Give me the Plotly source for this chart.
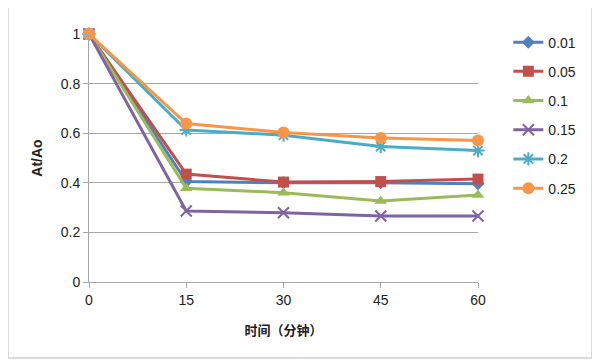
import plotly.graph_objects as go

times = [0, 15, 30, 45, 60]
series_names = ["0.01", "0.05", "0.1", "0.15", "0.2", "0.25"]
v_001 = [1.0, 0.405, 0.400, 0.400, 0.396]
v_005 = [1.0, 0.435, 0.403, 0.405, 0.415]
v_01 = [1.0, 0.378, 0.360, 0.327, 0.351]
v_015 = [1.0, 0.286, 0.279, 0.266, 0.266]
v_02 = [1.0, 0.613, 0.592, 0.546, 0.530]
v_025 = [1.0, 0.639, 0.603, 0.581, 0.571]
values = [v_001, v_005, v_01, v_015, v_02, v_025]
y_ticks = [0, 0.2, 0.4, 0.6, 0.8, 1]
y_ticklabels = ["0", "0.2", "0.4", "0.6", "0.8", "1"]

colors = ["#4F81BD", "#C0504D", "#9BBB59", "#8064A2", "#4BACC6", "#F79646"]
symbols = ["diamond", "square", "triangle-up", "x-thin-open", "asterisk-open", "circle"]
sizes = [10, 11, 11, 11, 11, 12]

fig = go.Figure()
for i, (name, vals) in enumerate(zip(series_names, values)):
    open_sym = symbols[i].endswith("open")
    fig.add_trace(go.Scatter(
        x=times, y=vals, name=name, mode="lines+markers",
        line=dict(color=colors[i], width=3),
        marker=dict(symbol=symbols[i], size=sizes[i], color=colors[i],
                    line=dict(color=colors[i], width=2 if open_sym else 0)),
        cliponaxis=False, legendgroup=name,
    ))

axis_font = dict(family="Liberation Sans, Arial, sans-serif", size=14, color="#222222")
fig.update_layout(
    width=592, height=356,
    margin=dict(l=81, r=122, t=26, b=82),
    paper_bgcolor="white", plot_bgcolor="white",
    font=axis_font,
    showlegend=True,
    legend=dict(x=1.078, y=1.03, xanchor="left", yanchor="top",
                tracegroupgap=8, font=dict(size=14, color="#222222"),
                bgcolor="rgba(0,0,0,0)", itemwidth=30),
    xaxis=dict(range=[0, 60], tickvals=times, ticktext=[str(t) for t in times],
               showgrid=False, zeroline=False, showline=True, linecolor="#A6A6A6",
               linewidth=1, ticks="outside", ticklen=5, tickcolor="#A6A6A6",
               title=dict(text="<b>时间（分钟）</b>", standoff=19,
                          font=dict(family="Noto Sans CJK SC", size=13, color="#222222"))),
    yaxis=dict(range=[0, 1], tickvals=y_ticks, ticktext=y_ticklabels,
               showgrid=True, gridcolor="#A6A6A6", gridwidth=1, zeroline=False,
               showline=True, linecolor="#A6A6A6", linewidth=1,
               ticks="outside", ticklen=5, tickcolor="#A6A6A6",
               title=dict(text="<b>At/Ao</b>", standoff=14,
                          font=dict(family="Liberation Sans, Arial", size=14, color="#222222"))),
    shapes=[dict(type="rect", xref="paper", yref="paper",
                 x0=-81/389, x1=503/389, y0=-76/247.7, y1=276/247.7,
                 line=dict(color="#D0D0D0", width=1.5), layer="below")],
)

fig.write_html("out.html")
